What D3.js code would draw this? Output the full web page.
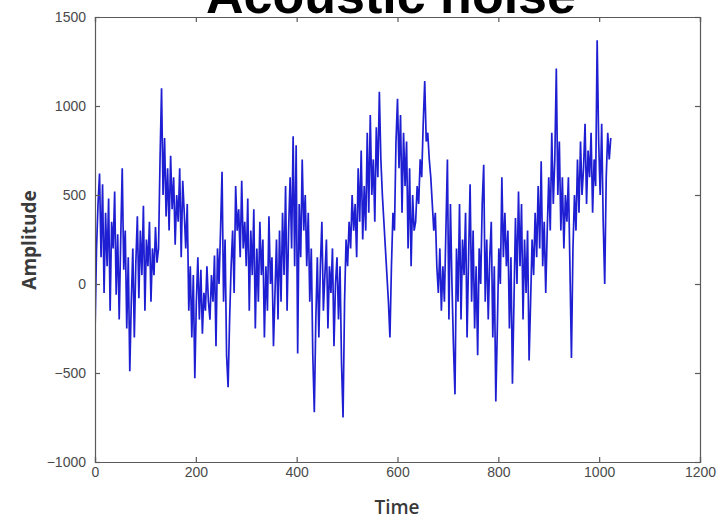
<!DOCTYPE html>
<html>
<head>
<meta charset="utf-8">
<script src="https://cdn.jsdelivr.net/npm/d3@7"></script>
<style>
  html, body { margin: 0; padding: 0; background: #ffffff; }
  svg { display: block; }
</style>
</head>
<body>
<svg id="chart" width="719" height="521"></svg>
<script>
// Sample times: every third sample of a 1024-sample recording
const sampleStep = 3;
const sampleCount = 342;

// Amplitude per sample, grouped in runs of 20 samples
const amp0 = [-280, 200, 450, 620, 150, 560, -50, 400, 100, 480, -150, 350, 200, 520, -60, 280, -200, 250, 650, 80];
const amp1 = [300, -250, 150, -490, -100, 200, -300, 120, 380, -80, 300, 50, 440, -150, 250, 100, 350, -100, 200, 50];
const amp2 = [320, 120, 200, 700, 1100, 500, 820, 380, 650, 300, 720, 420, 600, 220, 500, 350, 650, 150, 580, 400];
const amp3 = [200, 450, -150, 100, -300, 50, -530, -100, 150, -200, 80, -280, -50, -150, 100, -100, -200, 50, -100, 160];
const amp4 = [-350, 200, 0, 300, 630, -100, 250, -400, -580, -200, 100, 300, -50, 550, 300, 420, 150, 580, 200, 350];
const amp5 = [100, 480, -150, 300, 50, 420, -250, 200, -100, 350, 50, 250, -300, 100, -150, 380, 0, 150, -350, -50];
const amp6 = [250, -200, 300, -100, 400, 50, 550, -150, 300, 600, 200, 830, 100, 780, -390, 450, 150, 700, 300, 500];
const amp7 = [100, 400, -100, 200, -400, -720, -200, 150, -300, 100, 350, -150, 50, 250, -250, 100, -50, 200, -350, 0];
const amp8 = [150, -200, 100, -450, -750, -100, 250, 100, 350, 200, 500, 300, 450, 150, 650, 350, 750, 250, 550, 300];
const amp9 = [850, 400, 950, 500, 700, 350, 880, 600, 1080, 700, 500, 350, 200, 50, -100, -300, 100, 400, 300, 800];
const amp10 = [1040, 650, 950, 400, 850, 550, 800, 200, 650, 100, 500, 300, 350, 550, 450, 700, 600, 900, 1140, 800];
const amp11 = [850, 700, 600, 450, 300, 400, 100, -50, 200, -150, 100, -100, 300, 700, -200, 450, 0, -350, -620, 200];
const amp12 = [-100, 450, -200, 250, 50, 400, -300, 150, 560, -100, 300, -250, 100, -400, 200, 0, 450, 670, -100, 250];
const amp13 = [-200, 150, 350, -300, 100, -660, -250, 200, 0, 600, 150, 400, 100, 300, -250, 150, -560, -100, 370, 0];
const amp14 = [520, 100, 450, -200, 250, -50, 300, -430, -100, 250, 50, 400, 150, 550, 200, 690, 100, 350, -50, 300];
const amp15 = [600, 300, 850, 450, 700, 1210, 500, 800, 300, 600, 200, 500, 350, 600, 100, -415, 200, 500, 300, 700];
const amp16 = [400, 800, 500, 650, 900, 450, 750, 600, 850, 400, 700, 550, 1370, 800, 500, 900, 350, 0, 600, 850, 700, 820];

const amplitude = [].concat(amp0, amp1, amp2, amp3, amp4, amp5, amp6, amp7, amp8,
                            amp9, amp10, amp11, amp12, amp13, amp14, amp15, amp16);
const time = d3.range(sampleCount).map(i => i * sampleStep);

// Axis ticks
const xTicks = [0, 200, 400, 600, 800, 1000, 1200];
const yTicks = [-1000, -500, 0, 500, 1000, 1500];

const titleText = "Acoustic noise";
const xLabel = "Time";
const yLabel = "Amplitude";

const svg = d3.select("#chart");
const plot = { left: 95, right: 700, top: 17, bottom: 462 };

const x = d3.scaleLinear().domain([0, 1200]).range([plot.left, plot.right]);
const y = d3.scaleLinear().domain([-1000, 1500]).range([plot.bottom, plot.top]);

const axisColor = "#5a5a5a";
const labelFont = "'Liberation Sans', Arial, sans-serif";

// Plot background
svg.append("rect")
  .attr("x", plot.left).attr("y", plot.top)
  .attr("width", plot.right - plot.left).attr("height", plot.bottom - plot.top)
  .attr("fill", "#ffffff");

svg.append("clipPath").attr("id", "plot-clip")
  .append("rect")
  .attr("x", plot.left).attr("y", plot.top)
  .attr("width", plot.right - plot.left).attr("height", plot.bottom - plot.top);

// Signal trace
const line = d3.line()
  .x((d, i) => x(time[i]))
  .y(d => y(d));

svg.append("path")
  .datum(amplitude)
  .attr("clip-path", "url(#plot-clip)")
  .attr("fill", "none")
  .attr("stroke", "#1e1ed2")
  .attr("stroke-width", 1.7)
  .attr("stroke-linejoin", "miter")
  .attr("d", line);

// Axes with inward ticks on all four sides
const tickLen = 5;
const bottomAxis = d3.axisBottom(x).tickValues(xTicks).tickSize(-tickLen).tickPadding(5).tickFormat(d3.format("d"));
const topAxis = d3.axisTop(x).tickValues(xTicks).tickSize(-tickLen).tickFormat("");
const leftAxis = d3.axisLeft(y).tickValues(yTicks).tickSize(-tickLen).tickPadding(9).tickFormat(d3.format("d"));
const rightAxis = d3.axisRight(y).tickValues(yTicks).tickSize(-tickLen).tickFormat("");

function styleAxis(g) {
  g.select(".domain").attr("stroke", axisColor).attr("stroke-width", 1.2);
  g.selectAll(".tick line").attr("stroke", axisColor).attr("stroke-width", 1.2);
  g.selectAll(".tick text")
    .attr("fill", "#4a4a4a")
    .style("font-family", labelFont)
    .style("font-size", "14px");
}

svg.append("g").attr("transform", `translate(0,${plot.bottom})`).call(bottomAxis).call(styleAxis);
svg.append("g").attr("transform", `translate(0,${plot.top})`).call(topAxis).call(styleAxis);
svg.append("g").attr("transform", `translate(${plot.left},0)`).call(leftAxis).call(styleAxis);
svg.append("g").attr("transform", `translate(${plot.right},0)`).call(rightAxis).call(styleAxis);

// Axis titles
svg.append("text")
  .attr("x", 397).attr("y", 514)
  .attr("text-anchor", "middle")
  .attr("fill", "#3a3a3a")
  .style("font-family", "'Open Sans', 'Liberation Sans', sans-serif")
  .style("font-weight", "600")
  .style("font-size", "19px")
  .text(xLabel);

svg.append("text")
  .attr("transform", "translate(36,240) rotate(-90)")
  .attr("text-anchor", "middle")
  .attr("fill", "#3a3a3a")
  .style("font-family", "'Open Sans', 'Liberation Sans', sans-serif")
  .style("font-weight", "700")
  .style("font-size", "19px")
  .text(yLabel);

// Chart title, partly above the top edge
svg.append("text")
  .attr("x", 391).attr("y", 13)
  .attr("text-anchor", "middle")
  .attr("fill", "#000000")
  .style("font-family", "'Liberation Sans', Arial, sans-serif")
  .style("font-weight", "700")
  .style("font-size", "52px")
  .text(titleText);
</script>
</body>
</html>
